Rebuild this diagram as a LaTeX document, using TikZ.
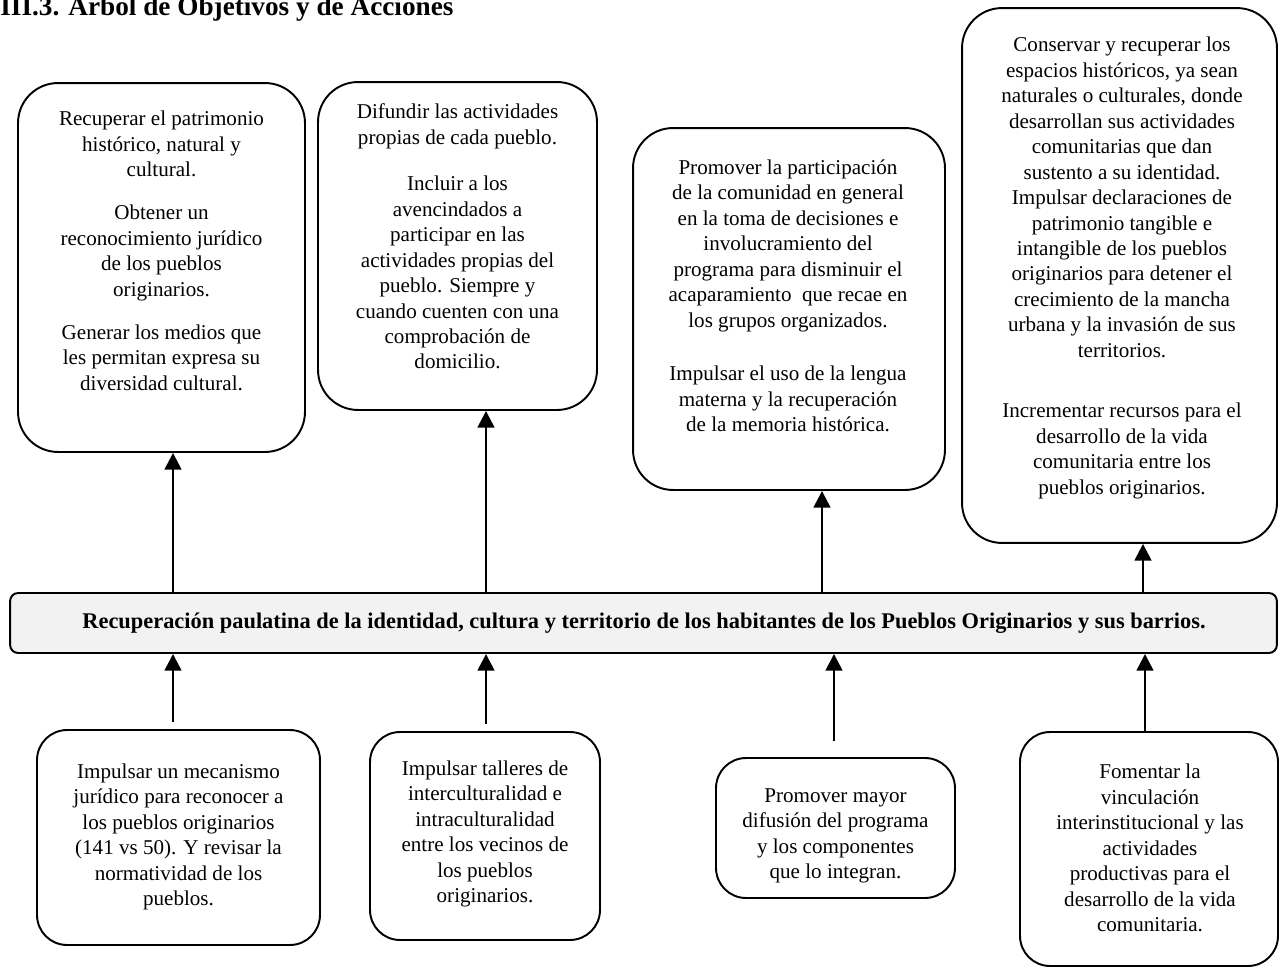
\documentclass[tikz,border=0pt]{standalone}
\usepackage{fontspec}
\setmainfont{Liberation Serif}
\usetikzlibrary{arrows.meta}
\tikzset{
  goal/.style={draw, line width=1.1pt, rounded corners=0.8cm, inner sep=0pt},
  action/.style={draw, line width=1.1pt, rounded corners=0.6cm, inner sep=0pt},
  mainbox/.style={draw, line width=1.1pt, rounded corners=0.16cm, fill=black!5, inner sep=0pt},
  boxtext/.style={align=center, inner sep=0pt, font=\fontsize{12pt}{14.5pt}\selectfont},
  uparrow/.style={line width=1.4pt, -{Triangle[length=9.5pt, width=9.5pt]}}
}

\begin{document}
\begin{tikzpicture}[x=0.02cm, y=-0.02cm]
  \useasboundingbox (0,0) rectangle (1279,967);
  \node [anchor = base west, inner sep=0pt, font=\fontsize{15.5pt}{18pt}\selectfont\bfseries] (title) at (0,15) {III.3. Árbol de Objetivos y de Acciones};

  \node [goal, minimum width=5.74cm, minimum height=7.38cm] (obj-1) at (161.5,267.5) {};
  \node [goal, minimum width=5.58cm, minimum height=6.56cm] (obj-2) at (457.5,246) {};
  \node [goal, minimum width=6.24cm, minimum height=7.24cm] (obj-3) at (789,309) {};
  \node [goal, minimum width=6.30cm, minimum height=10.70cm] (obj-4) at (1119.5,275.5) {};
  \node [boxtext] (obj-1-text) at (161.5,251) {Recuperar el patrimonio\\ histórico, natural y\\ cultural.\\[10pt] Obtener un\\ reconocimiento jurídico\\ de los pueblos\\ originarios.\\[10pt] Generar los medios que\\ les permitan expresa su\\ diversidad cultural.};
  \node [boxtext] (obj-2-text) at (457.5,236.5) {Difundir las actividades\\ propias de cada pueblo.\\[12pt] Incluir a los\\ avencindados a\\ participar en las\\ actividades propias del\\ pueblo. Siempre y\\ cuando cuenten con una\\ comprobación de\\ domicilio.};
  \node [boxtext] (obj-3-text) at (788,296) {Promover la participación\\ de la comunidad en general\\ en la toma de decisiones e\\ involucramiento del\\ programa para disminuir el\\ acaparamiento\ \ que recae en\\ los grupos organizados.\\[16pt] Impulsar el uso de la lengua\\ materna y la recuperación\\ de la memoria histórica.};
  \node [boxtext] (obj-4-text) at (1122,268) {Conservar y recuperar los\\ espacios históricos, ya sean\\ naturales o culturales, donde\\ desarrollan sus actividades\\ comunitarias que dan\\ sustento a su identidad.\\ Impulsar declaraciones de\\ patrimonio tangible e\\ intangible de los pueblos\\ originarios para detener el\\ crecimiento de la mancha\\ urbana y la invasión de sus\\ territorios.\\[20pt] Incrementar recursos para el\\ desarrollo de la vida\\ comunitaria entre los\\ pueblos originarios.};

  \node [mainbox, minimum width=25.34cm, minimum height=1.2cm] (main) at (643.5,623) {};
  \node [boxtext, font=\fontsize{12.75pt}{15pt}\selectfont\bfseries] (main-text) at (644,623) {Recuperación paulatina de la identidad, cultura y territorio de los habitantes de los Pueblos Originarios y sus barrios.};

  \node [action, minimum width=5.66cm, minimum height=4.30cm] (act-1) at (178.5,837.5) {};
  \node [action, minimum width=4.60cm, minimum height=4.16cm] (act-2) at (485,836) {};
  \node [action, minimum width=4.78cm, minimum height=2.80cm] (act-3) at (835.5,828) {};
  \node [action, minimum width=5.16cm, minimum height=4.68cm] (act-4) at (1149,849) {};
  \node [boxtext] (act-1-text) at (178.5,837) {Impulsar un mecanismo\\ jurídico para reconocer a\\ los pueblos originarios\\ (141 vs 50). Y revisar la\\ normatividad de los\\ pueblos.};
  \node [boxtext] (act-2-text) at (485,834) {Impulsar talleres de\\ interculturalidad e\\ intraculturalidad\\ entre los vecinos de\\ los pueblos\\ originarios.};
  \node [boxtext] (act-3-text) at (835.5,836) {Promover mayor\\ difusión del programa\\ y los componentes\\ que lo integran.};
  \node [boxtext] (act-4-text) at (1150,848) {Fomentar la\\ vinculación\\ interinstitucional y las\\ actividades\\ productivas para el\\ desarrollo de la vida\\ comunitaria.};

  \coordinate (up-1) at (173,0);
  \coordinate (up-2) at (486,0);
  \coordinate (up-3) at (822,0);
  \coordinate (up-4) at (1143,0);
  \coordinate (dn-1) at (173,0);
  \coordinate (dn-2) at (486,0);
  \coordinate (dn-3) at (834,0);
  \coordinate (dn-4) at (1145,0);

  \draw [uparrow] (main.north -| up-1) -- (obj-1.south -| up-1);
  \draw [uparrow] (main.north -| up-2) -- (obj-2.south -| up-2);
  \draw [uparrow] (main.north -| up-3) -- (obj-3.south -| up-3);
  \draw [uparrow] (main.north -| up-4) -- (obj-4.south -| up-4);
  \draw [uparrow, shorten <=4pt] (act-1.north -| dn-1) -- (main.south -| dn-1);
  \draw [uparrow, shorten <=4pt] (act-2.north -| dn-2) -- (main.south -| dn-2);
  \draw [uparrow, shorten <=9pt] (act-3.north -| dn-3) -- (main.south -| dn-3);
  \draw [uparrow] (act-4.north -| dn-4) -- (main.south -| dn-4);
\end{tikzpicture}
\end{document}
